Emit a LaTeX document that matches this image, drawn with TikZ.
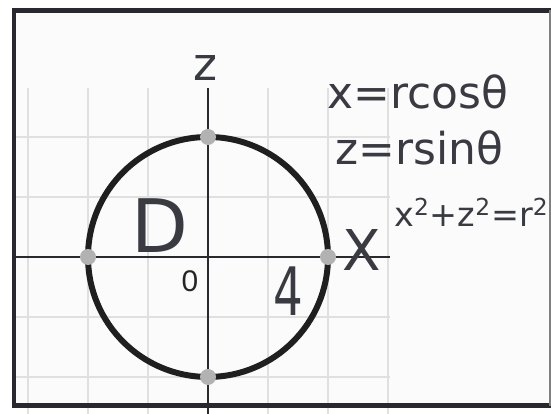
\documentclass[tikz,border=0pt]{standalone}
\usepackage{fontspec}
\newfontfamily\handfont{DejaVu Sans}
\newfontfamily\labelfont{Liberation Sans}
\usetikzlibrary{positioning}
\definecolor{inkGray}{RGB}{58,58,66}
\definecolor{frameGray}{RGB}{40,40,46}
\definecolor{gridGray}{RGB}{224,224,224}
\definecolor{dotGray}{RGB}{178,178,178}
\definecolor{paperGray}{RGB}{251,251,251}

\begin{document}
\begin{tikzpicture}[x=1.2cm,y=1.2cm,
        hw/.style={text=inkGray,inner sep=0pt},
        pt/.style={circle,fill=dotGray,inner sep=0pt,minimum size=0.32cm},
        gl/.style={gridGray,line width=1.1pt},
        ax/.style={draw=inkGray!70!black,line width=1.2pt}]
        \useasboundingbox (-3.467,-2.617) rectangle (5.717,4.283);
        \fill[paperGray] (-3.233,-2.483) rectangle (5.7,4.108);
        % grid and axes
        \foreach \gx in {-3,...,3} \draw[gl] (\gx,2.817) -- (\gx,-2.617);
        \foreach \gy in {-2,...,2} \draw[gl] (-3.2,\gy) -- (3.03,\gy);
        \draw[ax] (-3.2,0) -- (3.03,0);
        \draw[ax] (0,2.817) -- (0,-2.617);
        % frame
        \draw[frameGray,line width=2.8pt] (5.717,4.108) -- (-3.233,4.108) -- (-3.233,-2.483) -- (5.717,-2.483);
        \draw[gray,line width=0.6pt] (5.7,4.108) -- (5.7,-2.483);
        % disk D
        \draw[black!88,line width=3.4pt] (0,0) circle (2);
        \node[pt] (ptT) at (0,2)  {};
        \node[pt] (ptB) at (0,-2) {};
        \node[pt] (ptL) at (-2,0) {};
        \node[pt] (ptR) at (2,0)  {};
        % labels
        \node[hw,font=\handfont\fontsize{26}{26}\selectfont] (zlab) at (-0.05,3.15) {z};
        \node[hw,font=\handfont\fontsize{32}{32}\selectfont] (xlab) at (2.57,0.12) {X};
        \node[hw,font=\handfont\fontsize{42}{42}\selectfont] (dlab) at (-0.8,0.517) {D};
        \node[hw,font=\handfont\fontsize{38}{38}\selectfont,xscale=0.7] (rlab) at (1.333,-0.567) {4};
        \node[text=black!85,font=\labelfont\fontsize{17}{17}\selectfont,inner sep=0pt] (olab) at (-0.3,-0.4) {0};
        \node[hw,anchor=west,font=\handfont\fontsize{25}{25}\selectfont] (eqx) at (1.983,2.75) {x=rcosθ};
        \node[hw,anchor=west,font=\handfont\fontsize{25}{25}\selectfont] (eqz) at (2.117,1.817) {z=rsinθ};
        \node[hw,anchor=west,font=\handfont\fontsize{19}{19}\selectfont] (eqr) at (3.1,0.75) {x\textsuperscript{2}+z\textsuperscript{2}=r\textsuperscript{2}};
\end{tikzpicture}
\end{document}
